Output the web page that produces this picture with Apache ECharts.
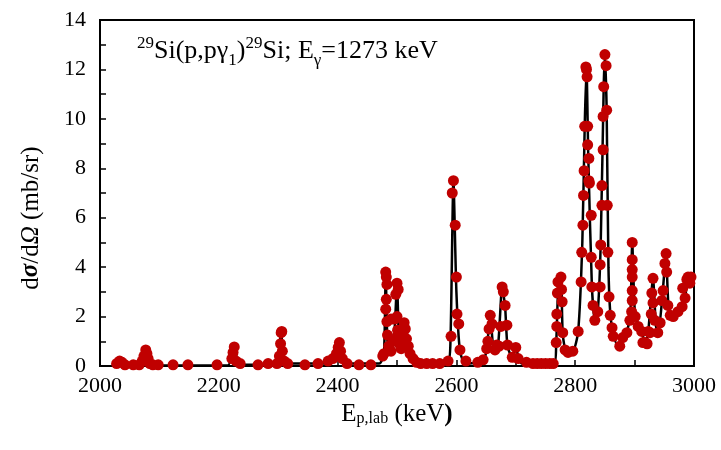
<!DOCTYPE html>
<html>
<head>
<meta charset="utf-8">
<script src="https://cdn.jsdelivr.net/npm/echarts@6/dist/echarts.min.js"></script>
<style>
  html, body { margin: 0; padding: 0; background: #fff; }
  #chart { width: 721px; height: 450px; }
</style>
</head>
<body>
<div id="chart"></div>
<script>
// measured points (E in keV, cross section in mb/sr)
const points = [
    [2028, 0.1], [2033, 0.2], [2037, 0.15], [2042, 0.05], [2056, 0.05], [2066, 0.05], [2071, 0.2], [2074, 0.4],
    [2077, 0.65], [2079, 0.5], [2081, 0.3], [2084, 0.1], [2089, 0.05], [2098, 0.05], [2123, 0.05], [2148, 0.05],
    [2197, 0.05], [2222, 0.3], [2224, 0.55], [2226, 0.77], [2229, 0.2], [2236, 0.1], [2266, 0.05], [2283, 0.1],
    [2298, 0.1], [2302, 0.4], [2304, 0.9], [2305, 1.35], [2306, 1.4], [2307, 0.6], [2310, 0.2], [2316, 0.1],
    [2345, 0.05], [2367, 0.1], [2384, 0.2], [2392, 0.3], [2398, 0.5], [2401, 0.75], [2403, 0.95], [2405, 0.6],
    [2408, 0.3], [2416, 0.1], [2436, 0.05], [2456, 0.05], [2476, 0.4], [2478, 0.5],
    [2481, 3.8], [2482, 3.6], [2483, 3.3], [2482, 2.7], [2481, 2.3], [2483, 1.8], [2484, 1.25], [2486, 0.8],
    [2490, 0.6], [2493, 1.0], [2490, 1.9], [2496, 1.9], [2498, 2.9], [2500, 3.35], [2502, 3.1], [2500, 2.0],
    [2501, 1.45], [2501, 1.2], [2504, 0.9], [2507, 0.7], [2510, 1.3], [2512, 1.75], [2514, 1.5], [2516, 1.1],
    [2519, 0.8], [2522, 0.5], [2527, 0.3], [2533, 0.15], [2540, 0.1], [2550, 0.1], [2560, 0.1], [2572, 0.1],
    [2586, 0.2], [2591, 1.2], [2593, 7.0], [2595, 7.5], [2598, 5.7], [2600, 3.6], [2601, 2.1], [2604, 1.7],
    [2606, 0.65], [2616, 0.2], [2636, 0.15], [2645, 0.25], [2651, 0.7], [2653, 1.0], [2655, 1.5], [2657, 2.05],
    [2660, 1.7], [2665, 0.65], [2668, 0.85], [2672, 0.8], [2675, 1.6], [2677, 3.2], [2679, 3.0], [2682, 2.45],
    [2685, 1.65], [2686, 0.85], [2694, 0.35], [2700, 0.75], [2704, 0.3], [2718, 0.15], [2729, 0.1], [2736, 0.1],
    [2743, 0.1], [2750, 0.1], [2757, 0.1], [2763, 0.1],
    [2768, 0.95], [2769, 1.6], [2769, 2.1], [2770, 2.95], [2771, 3.4], [2776, 3.6], [2777, 3.1], [2778, 2.6],
    [2779, 1.35], [2783, 0.65], [2788, 0.55], [2796, 0.6],
    [2805, 1.4], [2810, 3.4], [2811, 4.6], [2813, 5.7], [2814, 6.9], [2815, 7.9], [2816, 9.7], [2818, 12.1],
    [2819, 12.0], [2820, 11.7], [2821, 9.7], [2821, 8.95], [2823, 8.4], [2823, 7.5], [2824, 7.4], [2827, 6.1],
    [2827, 4.4], [2828, 3.2], [2830, 2.45], [2833, 1.85], [2838, 2.2], [2842, 3.2], [2842, 4.1], [2843, 4.9],
    [2845, 6.5], [2845, 7.3], [2847, 8.75], [2847, 10.1], [2848, 11.3], [2850, 12.6], [2852, 12.15], [2853, 10.35],
    [2854, 6.5], [2855, 4.6], [2857, 2.8], [2859, 2.05], [2862, 1.55], [2864, 1.2], [2875, 0.8], [2880, 1.15],
    [2887, 1.35], [2892, 1.85], [2895, 2.2], [2896, 2.65], [2896, 3.05], [2896, 3.6], [2896, 3.9], [2896, 4.3],
    [2896, 5.0], [2901, 2.0], [2906, 1.6], [2912, 1.4], [2914, 0.95], [2918, 0.95], [2921, 0.9], [2923, 1.4],
    [2926, 1.35], [2928, 2.1], [2929, 2.95], [2931, 3.55], [2931, 2.55], [2934, 1.85], [2939, 1.35], [2943, 1.75],
    [2946, 2.65], [2948, 3.05], [2951, 4.15], [2953, 4.55], [2954, 3.8], [2956, 2.45], [2960, 2.05], [2965, 2.0],
    [2973, 2.2], [2980, 2.4], [2981, 3.15], [2985, 2.75], [2988, 3.5], [2990, 3.6], [2993, 3.35], [2995, 3.6]
];

// fitted curve drawn under the points
const curve = [
    [2020, 0.02], [2033, 0.15], [2045, 0.03], [2070, 0.1], [2077, 0.65], [2084, 0.1], [2095, 0.02], [2215, 0.02],
    [2226, 0.75], [2235, 0.05], [2295, 0.05], [2305, 1.4], [2312, 0.1], [2380, 0.1], [2403, 0.95], [2410, 0.1],
    [2470, 0.1], [2478, 0.5], [2481, 3.8], [2484, 1.0], [2490, 0.6], [2496, 1.5], [2500, 3.35], [2504, 0.9],
    [2508, 0.9], [2512, 1.75], [2518, 0.8], [2530, 0.15], [2585, 0.15], [2590, 1.0], [2595, 7.5], [2600, 3.0],
    [2606, 0.6], [2615, 0.1], [2645, 0.2], [2651, 0.7], [2657, 2.05], [2663, 0.7], [2670, 0.8], [2677, 3.2],
    [2682, 2.4], [2686, 0.8], [2694, 0.35], [2700, 0.7], [2710, 0.1], [2765, 0.1], [2768, 0.9], [2772, 3.5],
    [2776, 3.6], [2779, 1.3], [2785, 0.6], [2796, 0.6], [2805, 1.4], [2812, 5.0], [2816, 9.7], [2819, 12.1],
    [2822, 8.5], [2828, 3.3], [2833, 1.85], [2838, 2.2], [2843, 5.0], [2848, 11.3], [2850, 12.6], [2853, 10.3],
    [2856, 4.0], [2860, 1.9], [2870, 0.9], [2880, 1.0], [2887, 1.35], [2893, 2.2], [2896, 5.0], [2901, 2.0],
    [2912, 1.4], [2918, 0.9], [2923, 1.4], [2931, 3.55], [2936, 1.6], [2940, 1.35], [2947, 2.9], [2953, 4.55],
    [2958, 2.2], [2970, 2.1], [2985, 2.8], [2990, 3.6], [2995, 3.4]
];

const xRange = [2000, 3000];
const yRange = [0, 14];

const serif = '"Liberation Serif", "DejaVu Serif", serif';

let chart = echarts.init(document.getElementById('chart'));

let option = {
    backgroundColor: '#fff',
    animation: false,
    grid: {
        left: 100,
        right: 27,
        top: 20,
        bottom: 84,
        show: true,
        borderColor: '#000',
        borderWidth: 2
    },
    xAxis: {
        type: 'value',
        min: xRange[0],
        max: xRange[1],
        interval: 100,
        name: '{a|E}{s|p,lab}{a| (keV}{b|)}',
        nameLocation: 'middle',
        nameGap: 29,
        nameTextStyle: {
            rich: {
                a: {fontFamily: serif, fontSize: 25, color: '#000', verticalAlign: 'bottom', lineHeight: 30},
                s: {fontFamily: serif, fontSize: 16, color: '#000', verticalAlign: 'bottom', lineHeight: 24},
                b: {fontFamily: serif, fontSize: 25, color: '#000', fontWeight: 'bold', verticalAlign: 'bottom', lineHeight: 30}
            }
        },
        axisLine: {lineStyle: {color: '#000', width: 2}},
        axisTick: {inside: true, length: 6, lineStyle: {color: '#000', width: 1.5}},
        splitLine: {show: false},
        axisLabel: {
            fontFamily: serif,
            fontSize: 22,
            color: '#000',
            margin: 9,
            formatter: function (v) {
                return v % 200 === 0 ? String(v) : '';
            }
        }
    },
    yAxis: {
        type: 'value',
        min: yRange[0],
        max: yRange[1],
        interval: 1,
        axisLine: {show: true, lineStyle: {color: '#000', width: 2}},
        axisTick: {show: true, inside: true, length: 6, lineStyle: {color: '#000', width: 1.5}},
        splitLine: {show: false},
        axisLabel: {
            fontFamily: serif,
            fontSize: 22,
            color: '#000',
            margin: 14,
            formatter: function (v) {
                return v % 2 === 0 ? String(v) : '';
            }
        }
    },
    graphic: [
        {
            // y axis title, set a bit below the plot centre like the original
            type: 'text',
            x: 31,
            y: 218,
            rotation: Math.PI / 2,
            style: {
                text: '{a|d}{g|σ}{a|/d}{o|Ω}{a| (mb/sr)}',
                align: 'center',
                verticalAlign: 'middle',
                rich: {
                    a: {fontFamily: serif, fontSize: 25, fill: '#000'},
                    g: {fontFamily: serif, fontSize: 25, fill: '#000', fontWeight: 'bold', fontStyle: 'italic'},
                    o: {fontFamily: serif, fontSize: 25, fill: '#000', fontStyle: 'italic'}
                }
            }
        },
        {
            type: 'text',
            left: 137,
            top: 33,
            style: {
                text: '{p|29}{m|Si(p,p}{m|γ}{b|1}{m|)}{p|29}{m|Si; E}{b|γ}{m|=1273 keV}',
                rich: {
                    m: {fontFamily: serif, fontSize: 26, fill: '#000', lineHeight: 36, verticalAlign: 'middle'},
                    p: {fontFamily: serif, fontSize: 17, fill: '#000', lineHeight: 36, verticalAlign: 'top', padding: [2, 0, 0, 0]},
                    b: {fontFamily: serif, fontSize: 17, fill: '#000', lineHeight: 36, verticalAlign: 'bottom'}
                }
            }
        }
    ],
    series: [
        {
            name: 'fit',
            type: 'line',
            data: curve,
            showSymbol: false,
            smooth: 0.2,
            lineStyle: {color: '#000', width: 2.5},
            z: 2
        },
        {
            name: 'data',
            type: 'scatter',
            data: points,
            symbolSize: 11,
            itemStyle: {color: '#c00000', opacity: 1},
            z: 3
        }
    ]
};

chart.setOption(option);
</script>
</body>
</html>
